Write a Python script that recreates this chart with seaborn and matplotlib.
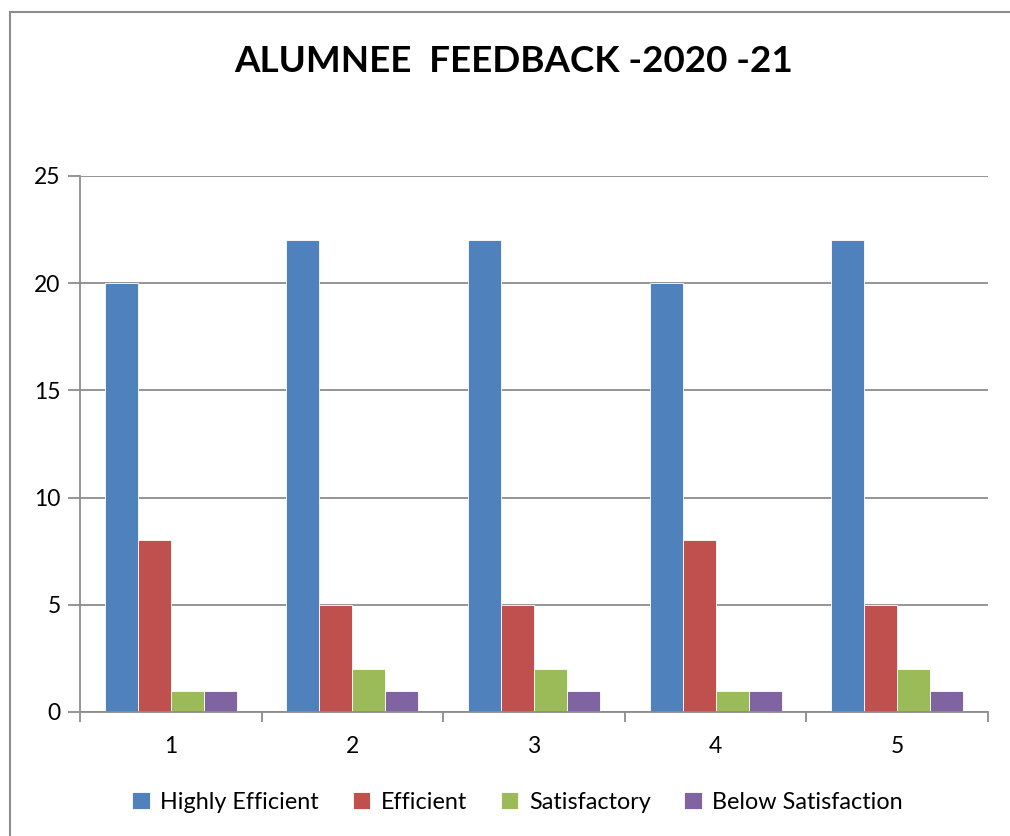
import pandas as pd
import numpy as np
import matplotlib.pyplot as plt
import seaborn as sns
from matplotlib.patches import Rectangle

categories = ["1", "2", "3", "4", "5"]
series = ["Highly Efficient", "Efficient", "Satisfactory", "Below Satisfaction"]
highly_efficient = [20, 22, 22, 20, 22]
efficient = [8, 5, 5, 8, 5]
satisfactory = [1, 2, 2, 1, 2]
below_satisfaction = [1, 1, 1, 1, 1]
colors = ["#4F81BD", "#C0504D", "#9BBB59", "#8064A2"]

df = pd.DataFrame({
    "category": categories * 4,
    "series": np.repeat(series, len(categories)),
    "value": highly_efficient + efficient + satisfactory + below_satisfaction,
})

sns.set_style("white")
plt.rcParams['font.family'] = ['Lato', 'DejaVu Sans']
plt.rcParams['text.color'] = 'black'

fig = plt.figure(figsize=(10.1, 8.36), dpi=100)
ax = fig.add_axes([80 / 1010, 1 - 712 / 836, 908 / 1010, 536 / 836])

sns.barplot(data=df, x="category", y="value", hue="series", order=categories,
            hue_order=series, palette=colors, width=0.727, gap=0,
            edgecolor="white", linewidth=0.6, saturation=1, ax=ax)

ax.set_ylim(0, 25)
ax.set_yticks(range(0, 26, 5))
ax.set_xlim(-0.5, 4.5)
ax.grid(axis="y", color="#8C8C8C", linewidth=1.3)
ax.set_axisbelow(True)
for side in ["top", "right"]:
    ax.spines[side].set_visible(False)
for side in ["left", "bottom"]:
    ax.spines[side].set_color("#8C8C8C")
    ax.spines[side].set_linewidth(1.3)

ax.tick_params(axis="y", length=9, width=1.3, color="#8C8C8C", labelsize=16.5,
               labelcolor="black", pad=5, left=True)
ax.tick_params(axis="x", which="major", length=0, labelsize=16.5, labelcolor="black", pad=17)
ax.set_xticks(np.arange(-0.5, 5.0, 1.0), minor=True)
ax.tick_params(axis="x", which="minor", length=7, width=1.3, color="#8C8C8C", bottom=True)
ax.set_xlabel("")
ax.set_ylabel("")

leg = ax.legend(loc="center", bbox_to_anchor=(0.482, -0.168), ncol=4, frameon=False,
                fontsize=16.8, handlelength=0.75, handleheight=0.75, handletextpad=0.45,
                columnspacing=1.45)
for t in leg.get_texts():
    t.set_color("black")

fig.text(0.508, 1 - 62 / 836, "ALUMNEE  FEEDBACK -2020 -21", ha="center", va="center",
         fontsize=26.5, fontweight="bold", color="black")

fig.patches.append(Rectangle((10 / 1010, -0.05), 1.1, 1 - 12 / 836 + 0.05,
                             transform=fig.transFigure, fill=False,
                             edgecolor="#8C8C8C", linewidth=1.5))

fig.savefig("out.png", dpi=100)
